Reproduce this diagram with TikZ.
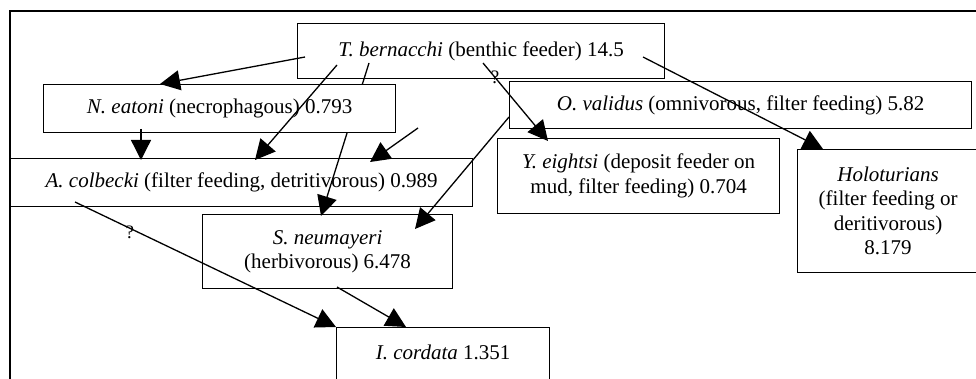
\documentclass[tikz,border=0pt]{standalone}
\usepackage{fontspec}
\setmainfont{Liberation Serif}
\usetikzlibrary{arrows.meta,calc}

\begin{document}
\begin{tikzpicture}[x=1pt, y=-1pt, >={Triangle[length=20pt,width=20pt]},
    box/.style={rectangle, draw, fill=white, line width=1.2pt, anchor=north west, inner sep=0pt, align=center, font=\fontsize{21}{24.5}\selectfont},
    link/.style={->, line width=1.3pt},
    query/.style={inner sep=0pt, font=\fontsize{19}{19}\selectfont}]
    \clip (0,0) rectangle (976,379);
    \draw[line width=1.6pt] (10,400) -- (10,11) -- (990,11);

    \node[box, minimum width=367pt, minimum height=55pt] (tb) at (297,23) {\textit{T. bernacchi} (benthic feeder) 14.5};
    \node[box, minimum width=462pt, minimum height=48pt] (ac) at (10,158) {\textit{A. colbecki} (filter feeding, detritivorous) 0.989};
    \node[box, minimum width=462pt, minimum height=47pt] (ov) at (509,81) {\textit{O. validus} (omnivorous, filter feeding) 5.82};
    \node[box, minimum width=282pt, minimum height=75pt] (ye) at (497,138) {\textit{Y. eightsi} (deposit feeder on\\mud, filter feeding) 0.704};
    \node[box, minimum width=181pt, minimum height=123pt] (ho) at (797,149) {\textit{Holoturians}\\(filter feeding or\\deritivorous)\\8.179};
    \node[box, minimum width=250pt, minimum height=74pt] (sn) at (202,214) {\textit{S. neumayeri}\\(herbivorous) 6.478};
    \node[box, minimum width=213pt, text height=22pt, text depth=40pt, inner ysep=10pt] (ic) at (336,327) {\textit{I. cordata} 1.351};

    \draw[link] ([shift={(72,40)}]tb.north west) -- ([shift={(119,2)}]sn.north west);

    \node[box, minimum width=352pt, minimum height=48pt] (ne) at (43,84) {\textit{N. eatoni} (necrophagous) 0.793};
    \coordinate (stray) at (418,128);

    \draw[link] ([shift={(8,34)}]tb.north west) -- ([shift={(117,0)}]ne.north west);
    \draw[link] ([shift={(40,42)}]tb.north west) -- ([shift={(245,2)}]ac.north west);
    \draw[link] ([shift={(186,40)}]tb.north west) -- node[query, pos=0.185] (q1) {?} ([shift={(51,3)}]ye.north west);
    \draw[link] ([shift={(346,34)}]tb.north west) -- ([shift={(26,0)}]ho.north west);
    \draw[link] ([shift={(98,45)}]ne.north west) -- ([shift={(131,2)}]ac.north west);
    \draw[link] (stray) -- ([shift={(360,4)}]ac.north west);
    \draw[link] ([shift={(0,36)}]ov.north west) -- ([shift={(213,15)}]sn.north west);
    \draw[link] ([shift={(65,44)}]ac.north west) -- node[query, pos=0.21, yshift=-4pt] (q2) {?} (ic.north west);
    \draw[link] ([shift={(135,73)}]sn.north west) -- ([shift={(70,0)}]ic.north west);
\end{tikzpicture}
\end{document}
